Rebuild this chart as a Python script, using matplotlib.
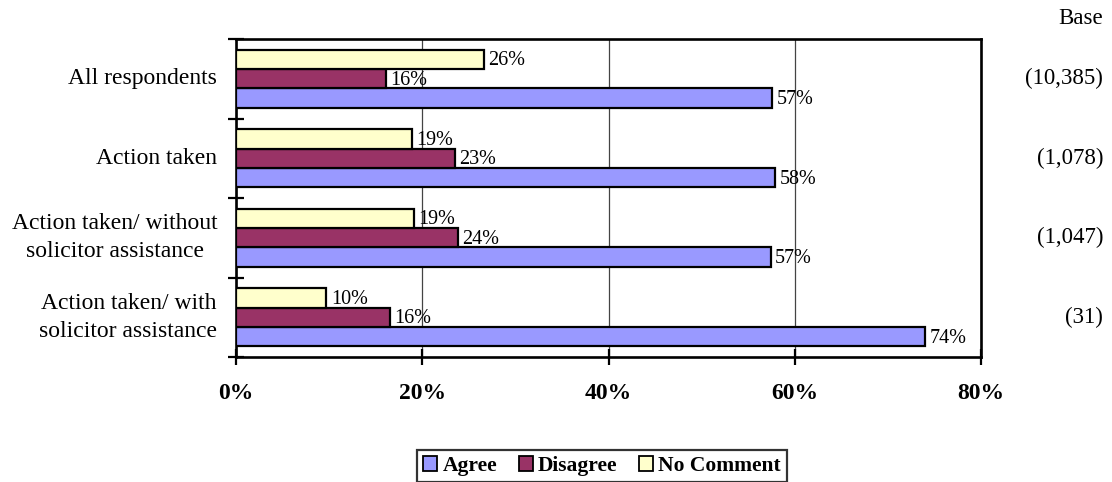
import matplotlib
matplotlib.use("Agg")
import matplotlib.pyplot as plt
from matplotlib.patches import Patch
import numpy as np

plt.rcParams['font.family'] = ['Liberation Serif', 'DejaVu Serif']

categories = ["All respondents", "Action taken",
              "Action taken/ without\nsolicitor assistance",
              "Action taken/ with\nsolicitor assistance"]
bases = ["(10,385)", "(1,078)", "(1,047)", "(31)"]
series = ["Agree", "Disagree", "No Comment"]
agree = [57.6, 57.9, 57.4, 74.0]
disagree = [16.1, 23.5, 23.8, 16.5]
no_comment = [26.6, 18.9, 19.1, 9.7]
agree_lbl = [57, 58, 57, 74]
disagree_lbl = [16, 23, 24, 16]
no_comment_lbl = [26, 19, 19, 10]
xticks = [0, 20, 40, 60, 80]

colors = ["#9999FF", "#993366", "#FFFFCC"]

fig = plt.figure(figsize=(11.12, 4.82), dpi=100)
ax = fig.add_axes([236/1112, 1-357/482, (981-236)/1112, (357-39)/482])

y = np.arange(len(categories))
h = 0.245
offsets = [h, 0, -h]
vals = [agree, disagree, no_comment]
lbls = [agree_lbl, disagree_lbl, no_comment_lbl]
for s, off, v, lb, c in zip(series, offsets, vals, lbls, colors):
    ax.barh(y + off, v, height=h, color=c, edgecolor='black', linewidth=1.6, zorder=3)
    for yi, vi, li in zip(y, v, lb):
        ax.text(vi + 0.5, yi + off + 0.02, f"{li}%", va='center', ha='left',
                fontsize=14.5, zorder=4)

ax.set_xlim(0, 80)
ax.set_ylim(3.5, -0.5)
ax.set_xticks(xticks)
ax.set_xticklabels([f"{t}%" for t in xticks], fontweight='bold', fontsize=17)
ax.set_yticks(np.arange(-0.5, 4.0, 1.0))
ax.set_yticklabels([])
ax.tick_params(axis='both', direction='inout', length=12, width=1.6)
ax.tick_params(axis='x', pad=12.5)
ax.xaxis.grid(True, color='#444444', linewidth=0.9, zorder=0)
for sp in ax.spines.values():
    sp.set_linewidth(1.9)
    sp.set_color('black')

for yi, cat in zip(y, categories):
    ax.text(-2.0, yi, cat, ha='right', va='center', multialignment='center',
            fontsize=17, linespacing=1.45)

for yi, b in zip(y, bases):
    yd = ax.transData.transform((0, yi))[1]
    yf = fig.transFigure.inverted().transform((0, yd))[1]
    fig.text(1103/1112, yf, b, ha='right', va='center', fontsize=16.5)
fig.text(1103/1112, 1-19/482, "Base", ha='right', va='center', fontsize=16.5)

handles = [Patch(facecolor=c, edgecolor='black', linewidth=1.3, label=s)
           for s, c in zip(series, colors)]
leg = fig.legend(handles=handles, ncol=3, loc='center',
                 bbox_to_anchor=(602/1112, 1-466/482),
                 prop={'weight': 'bold', 'size': 15.5},
                 frameon=True, fancybox=False, edgecolor='black',
                 handlelength=0.65, handleheight=0.65, handletextpad=0.25,
                 columnspacing=1.0, borderpad=0.3, borderaxespad=0)
leg.get_frame().set_linewidth(1.6)

fig.savefig("out.png", dpi=100)
